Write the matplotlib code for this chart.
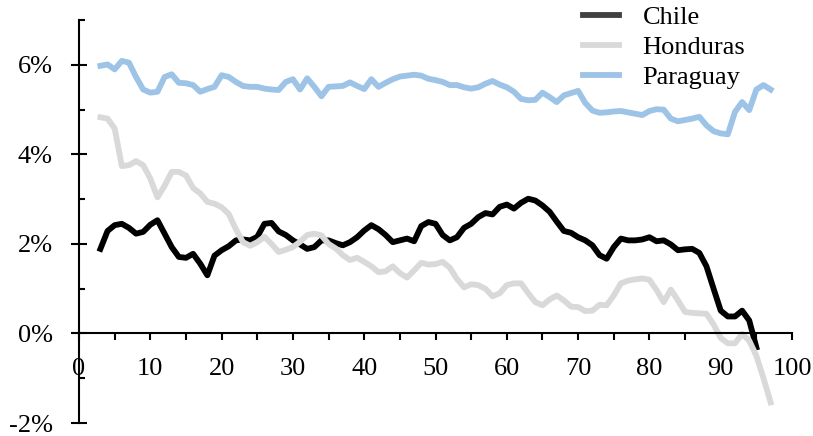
import numpy as np
import matplotlib
matplotlib.use("Agg")
import matplotlib.pyplot as plt
from matplotlib.ticker import MultipleLocator, FuncFormatter

plt.rcParams['font.family'] = ['Liberation Serif', 'DejaVu Serif']

# données
x_chile = list(range(3, 96))
chile = [1.89, 2.29, 2.42, 2.45, 2.36, 2.23, 2.27, 2.43, 2.53, 2.23,
         1.93, 1.71, 1.69, 1.78, 1.56, 1.30, 1.74, 1.86, 1.95, 2.08,
         2.10, 2.08, 2.16, 2.45, 2.47, 2.28, 2.20, 2.08, 1.99, 1.89,
         1.93, 2.08, 2.08, 2.02, 1.97, 2.04, 2.15, 2.30, 2.42, 2.33,
         2.20, 2.04, 2.08, 2.12, 2.06, 2.40, 2.49, 2.45, 2.20, 2.08,
         2.15, 2.36, 2.45, 2.60, 2.69, 2.66, 2.83, 2.88, 2.79, 2.92,
         3.01, 2.97, 2.86, 2.72, 2.50, 2.29, 2.25, 2.15, 2.08, 1.97,
         1.75, 1.67, 1.93, 2.12, 2.08, 2.08, 2.10, 2.15, 2.06, 2.08,
         1.99, 1.86, 1.88, 1.89, 1.80, 1.50, 1.00, 0.51, 0.38, 0.38,
         0.51, 0.29, -0.31]

x_honduras = list(range(3, 98))
honduras = [4.83, 4.80, 4.58, 3.74, 3.76, 3.85, 3.76, 3.46, 3.04, 3.30,
            3.61, 3.61, 3.53, 3.25, 3.13, 2.94, 2.90, 2.82, 2.67, 2.33,
            2.04, 1.96, 2.04, 2.16, 2.00, 1.82, 1.87, 1.93, 2.05, 2.20,
            2.23, 2.19, 2.00, 1.90, 1.75, 1.64, 1.69, 1.60, 1.50, 1.37,
            1.39, 1.50, 1.35, 1.25, 1.41, 1.58, 1.54, 1.55, 1.60, 1.47,
            1.22, 1.03, 1.10, 1.08, 1.00, 0.83, 0.90, 1.08, 1.12, 1.12,
            0.90, 0.70, 0.63, 0.76, 0.85, 0.74, 0.60, 0.59, 0.50, 0.51,
            0.64, 0.63, 0.85, 1.12, 1.18, 1.21, 1.23, 1.20, 0.97, 0.70,
            0.98, 0.74, 0.48, 0.46, 0.45, 0.44, 0.20, -0.10, -0.22, -0.22,
            -0.01, -0.16, -0.50, -1.00, -1.54]

x_paraguay = list(range(3, 98))
paraguay = [5.98, 6.01, 5.90, 6.09, 6.05, 5.73, 5.45, 5.38, 5.40, 5.73,
            5.79, 5.60, 5.59, 5.55, 5.40, 5.46, 5.51, 5.77, 5.73, 5.62,
            5.53, 5.51, 5.51, 5.47, 5.45, 5.44, 5.62, 5.68, 5.45, 5.70,
            5.51, 5.30, 5.51, 5.52, 5.53, 5.61, 5.53, 5.46, 5.68, 5.51,
            5.60, 5.68, 5.74, 5.76, 5.78, 5.76, 5.69, 5.66, 5.62, 5.55,
            5.55, 5.50, 5.47, 5.50, 5.58, 5.64, 5.56, 5.50, 5.40, 5.24,
            5.21, 5.22, 5.38, 5.28, 5.17, 5.32, 5.37, 5.42, 5.15, 4.98,
            4.93, 4.94, 4.96, 4.97, 4.94, 4.91, 4.88, 4.97, 5.01, 5.00,
            4.80, 4.74, 4.77, 4.80, 4.84, 4.65, 4.52, 4.47, 4.45, 4.95,
            5.17, 4.99, 5.45, 5.55, 5.45]

fig = plt.figure(figsize=(8.13, 4.36), dpi=100)
ax = fig.add_axes([0.0972, 0.0298, 0.877, 0.924])

ax.plot(x_chile, chile, color='black', lw=4.2, label='Chile')
ax.plot(x_honduras, honduras, color='#d9d9d9', lw=4.2, label='Honduras')
ax.plot(x_paraguay, paraguay, color='#9dc3e6', lw=4.2, label='Paraguay')

ax.set_xlim(0, 100)
ax.set_ylim(-2, 7)

ax.spines['top'].set_visible(False)
ax.spines['right'].set_visible(False)
ax.spines['bottom'].set_position(('data', 0))
ax.spines['left'].set_linewidth(1.5)
ax.spines['bottom'].set_linewidth(1.5)

ax.xaxis.set_major_locator(MultipleLocator(10))
ax.xaxis.set_minor_locator(MultipleLocator(5))
ax.yaxis.set_major_locator(MultipleLocator(2))
ax.yaxis.set_minor_locator(MultipleLocator(1))
ax.yaxis.set_major_formatter(FuncFormatter(lambda v, p: f"{v:.0f}%"))

ax.tick_params(axis='x', which='both', direction='out', length=5, width=1.5,
               labelsize=19, pad=13)
ax.tick_params(axis='y', which='major', direction='inout', length=11.5, width=1.5,
               labelsize=19, pad=13)
ax.tick_params(axis='y', which='minor', direction='in', length=4, width=1.5)

leg = fig.legend(loc='upper left', bbox_to_anchor=(570 / 813, 1.017), frameon=False,
                 fontsize=19, handlelength=1.35, handletextpad=0.9,
                 labelspacing=0.25, borderpad=0.0)
leg.get_lines()[0].set_color('#404040')

fig.savefig('out.png', dpi=100)
